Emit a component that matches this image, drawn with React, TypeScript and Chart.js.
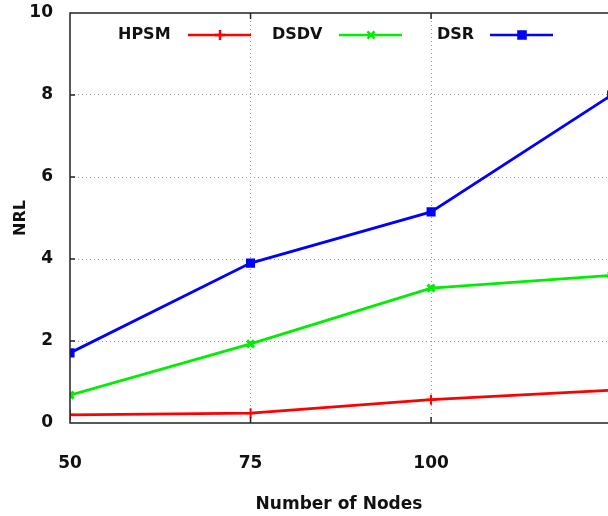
import React, { useEffect, useRef } from "react";
import { Chart, registerables } from "chart.js";
import { drawPoint } from "chart.js/helpers";

Chart.register(...registerables);

const xValues = [50, 75, 100, 125];
const hpsm = [0.2, 0.24, 0.57, 0.8];
const dsdv = [0.68, 1.93, 3.29, 3.6];
const dsr = [1.71, 3.9, 5.15, 8.0];
const xTicks = [50, 75, 100];
const yTicks = [0, 2, 4, 6, 8, 10];
const seriesNames = ["HPSM", "DSDV", "DSR"];
const seriesColors = ["#ff0000", "#00ee00", "#0000ff"];
const seriesPoints = ["cross", "crossRot", "rect"];
const seriesValues = [hpsm, dsdv, dsr];

const FONT = "'DejaVu Sans', sans-serif";

const framePlugin = {
  id: "frame",
  afterDatasetsDraw(chart: any) {
    const { ctx, chartArea } = chart;
    const xs = chart.scales.x;
    const ys = chart.scales.y;
    ctx.save();
    ctx.strokeStyle = "#222";
    ctx.lineWidth = 1.5;
    ctx.beginPath();
    ctx.moveTo(chartArea.right + 2, chartArea.top);
    ctx.lineTo(chartArea.left, chartArea.top);
    ctx.lineTo(chartArea.left, chartArea.bottom);
    ctx.lineTo(chartArea.right + 2, chartArea.bottom);
    ctx.stroke();
    // inward tick marks
    ctx.lineWidth = 1.5;
    ctx.beginPath();
    xTicks.slice(1).forEach((v) => {
      const px = xs.getPixelForValue(v);
      ctx.moveTo(px, chartArea.bottom);
      ctx.lineTo(px, chartArea.bottom - 6);
      ctx.moveTo(px, chartArea.top);
      ctx.lineTo(px, chartArea.top + 6);
    });
    yTicks.slice(1, -1).forEach((v) => {
      const py = ys.getPixelForValue(v);
      ctx.moveTo(chartArea.left, py);
      ctx.lineTo(chartArea.left + 5, py);
    });
    ctx.stroke();

    // legend (gnuplot style: text then sample)
    const textX = [118, 272, 437];
    const lineX = [188, 339, 490];
    const legendY = 35;
    ctx.font = `bold 16px ${FONT}`;
    ctx.textBaseline = "middle";
    ctx.textAlign = "left";
    chart.data.datasets.forEach((ds: any, i: number) => {
      ctx.fillStyle = "#111";
      ctx.fillText(ds.label, textX[i], legendY);
      ctx.strokeStyle = ds.borderColor;
      ctx.lineWidth = 2.5;
      ctx.beginPath();
      ctx.moveTo(lineX[i], legendY);
      ctx.lineTo(lineX[i] + 63, legendY);
      ctx.stroke();
      ctx.fillStyle = ds.borderColor;
      drawPoint(
        ctx,
        {
          pointStyle: ds.pointStyle,
          radius: ds.pointRadius,
          borderWidth: ds.pointBorderWidth,
          rotation: 0,
        } as any,
        lineX[i] + 32,
        legendY
      );
    });
    ctx.restore();
  },
};

export default function App() {
  const ref = useRef<HTMLCanvasElement>(null);
  useEffect(() => {
    document.body.style.margin = "0";
    const canvas = ref.current!;
    const chart = new Chart(canvas, {
      type: "line",
      data: {
        datasets: seriesNames.map((name, i) => ({
          label: name,
          data: xValues.map((x, j) => ({ x, y: seriesValues[i][j] })),
          borderColor: seriesColors[i],
          backgroundColor: seriesColors[i],
          borderWidth: 2.8,
          pointStyle: seriesPoints[i] as any,
          pointRadius: 5,
          pointBorderWidth: seriesPoints[i] === "crossRot" ? 3 : 2,
          tension: 0,
          fill: false,
        })),
      },
      options: {
        responsive: false,
        animation: false,
        layout: { autoPadding: false, padding: { top: 13, right: 0, left: 0, bottom: 0 } },
        plugins: {
          legend: { display: false },
          tooltip: { enabled: false },
        },
        scales: {
          x: {
            type: "linear",
            min: 50,
            max: 124.5,
            afterBuildTicks: (scale: any) => {
              scale.ticks = xTicks.map((v) => ({ value: v }));
            },
            afterFit: (scale: any) => {
              scale.height = 93;
              scale.paddingLeft = 0;
              scale.paddingRight = 0;
            },
            ticks: {
              color: "#111",
              font: { family: FONT, size: 17, weight: "bold" },
              padding: 30,
              maxRotation: 0,
              autoSkip: false,
            },
            grid: {
              drawTicks: false,
              color: (c: any) =>
                c.tick && (c.tick.value === 75 || c.tick.value === 100)
                  ? "#9a9a9a"
                  : "rgba(0,0,0,0)",
              lineWidth: 1,
            },
            border: { display: false, dash: [1, 3] },
            title: {
              display: true,
              text: "Number of Nodes",
              color: "#111",
              font: { family: FONT, size: 17, weight: "bold" },
              padding: { top: 0, bottom: 1 },
            },
          },
          y: {
            type: "linear",
            min: 0,
            max: 10,
            afterBuildTicks: (scale: any) => {
              scale.ticks = yTicks.map((v) => ({ value: v }));
            },
            afterFit: (scale: any) => {
              scale.width = 70;
              scale.paddingTop = 0;
              scale.paddingBottom = 0;
            },
            ticks: {
              color: "#111",
              font: { family: FONT, size: 17, weight: "bold" },
              padding: 17,
            },
            grid: {
              drawTicks: false,
              color: (c: any) =>
                c.tick && c.tick.value > 0 && c.tick.value < 10
                  ? "#9a9a9a"
                  : "rgba(0,0,0,0)",
              lineWidth: 1,
            },
            border: { display: false, dash: [1, 3] },
            title: {
              display: true,
              text: "NRL",
              color: "#111",
              font: { family: FONT, size: 16, weight: "bold" },
              padding: { top: 11, bottom: 0 },
            },
          },
        },
      },
      plugins: [framePlugin],
    });
    return () => chart.destroy();
  }, []);
  return <canvas ref={ref} width={608} height={516} style={{ display: "block" }} />;
}
